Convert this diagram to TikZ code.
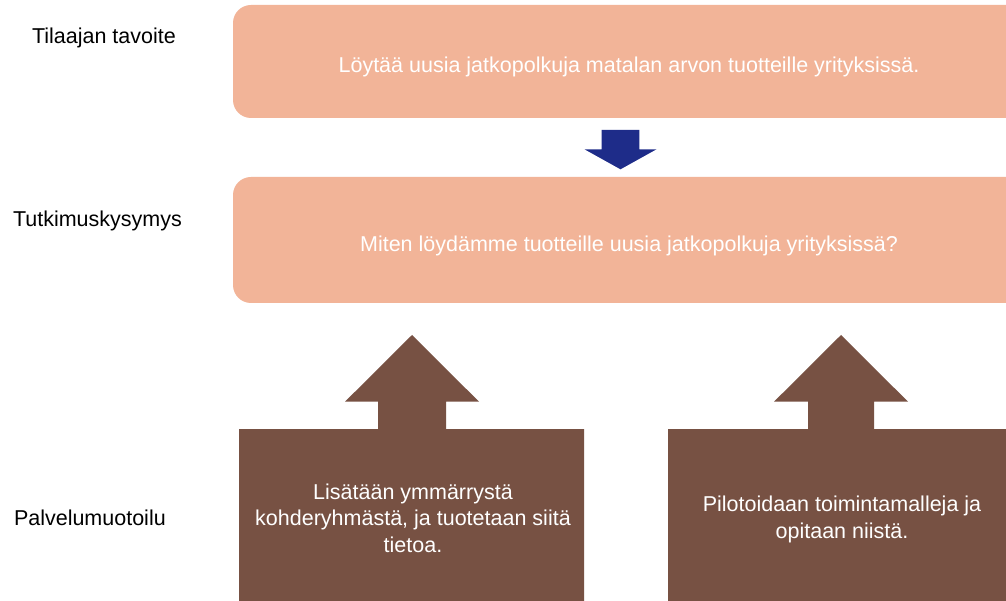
\documentclass[tikz,border=0pt]{standalone}
\usepackage{fontspec}
\setmainfont{Liberation Sans}
\begin{document}
\begin{tikzpicture}[x=1pt,y=-1pt,
  every node/.style={inner sep=0pt, outer sep=0pt},
  txt/.style={font=\fontsize{21.5}{26.5}\selectfont},
  rowlabel/.style={txt, text=black, anchor=base west},
  salmonbox/.style={fill=salmon, draw=none, rounded corners=18pt, anchor=north west},
  boxtext/.style={txt, text=white, anchor=base},
  brownshape/.style={fill=brownfill, draw=none},
  browntext/.style={txt, text=white, align=center},
  downarrow/.style={fill=navy, draw=none}]
\definecolor{salmon}{HTML}{F2B498}
\definecolor{brownfill}{HTML}{775143}
\definecolor{navy}{HTML}{1E2C89}
\useasboundingbox (0,0) rectangle (1006,601);
\fill[white] (0,0) rectangle (1006,601);

% row labels on the left
\node[rowlabel] (lgoal) at (32,44) {Tilaajan tavoite};
\node[rowlabel] (lquestion) at (13,227) {Tutkimuskysymys};
\node[rowlabel] (ldesign) at (14,525) {Palvelumuotoilu};

\begin{scope}
\clip (0,0) rectangle (1006,601);
% goal and research question boxes (running off the right edge)
\node[salmonbox, minimum width=792pt, minimum height=113pt] (goal) at (233,5) {};
\node[boxtext] (goaltext) at (629,73)
  {Löytää uusia jatkopolkuja matalan arvon tuotteille yrityksissä.};
\node[salmonbox, minimum width=792pt, minimum height=126pt] (question) at (233,177) {};
\node[boxtext] (questiontext) at (629,252)
  {Miten löydämme tuotteille uusia jatkopolkuja yrityksissä?};

% block arrow from goal to question
\fill[downarrow] (601.7,130) -- (639.3,130) -- (639.3,149.3) -- (656.5,149.3)
  -- (620.5,169.3) -- (584.5,149.3) -- (601.7,149.3) -- cycle;

% service design blocks with upward arrows
\fill[brownshape] (239,601) -- (239,429) -- (378,429) -- (378,401.7) -- (345,401.7)
  -- (412,335) -- (479,401.7) -- (446,401.7) -- (446,429) -- (584,429) -- (584,601) -- cycle;
\fill[brownshape] (668,601) -- (668,429) -- (808,429) -- (808,401.7) -- (774,401.7)
  -- (841,335) -- (908,401.7) -- (874,401.7) -- (874,429) -- (1014,429) -- (1014,601) -- cycle;
\end{scope}

\node[browntext] (understand) at (413,518)
  {Lisätään ymmärrystä\\kohderyhmästä, ja tuotetaan siitä\\tietoa.};
\node[browntext] (pilot) at (842,519.4)
  {Pilotoidaan toimintamalleja ja\\opitaan niistä.};
\end{tikzpicture}
\end{document}
